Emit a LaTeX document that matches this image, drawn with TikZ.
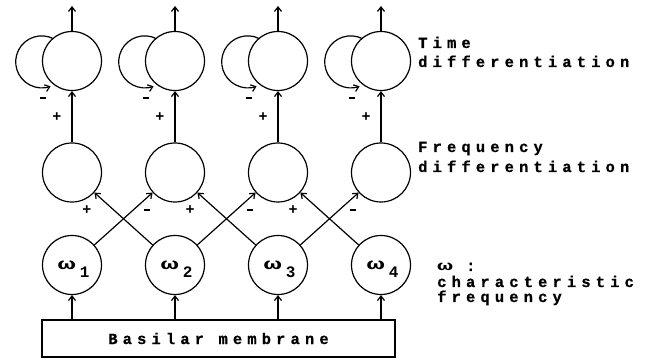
\documentclass[tikz,border=0pt]{standalone}
\usepackage{fontspec}
\usepackage{graphicx}
\newfontfamily\dotfont{Liberation Mono}[LetterSpace=33, BoldFont={Liberation Mono Bold}, BoldFeatures={FakeBold=0.6}]
\newfontfamily\digitfont{Liberation Mono}[BoldFont={Liberation Mono Bold}]
\usetikzlibrary{arrows.meta,calc}

% wide, heavy omega used for the characteristic frequencies
\newcommand{\wideomega}[1]{\scalebox{1.9}[1]{\digitfont\bfseries\fontsize{#1}{#1}\selectfont ω}}

\tikzset{
  neuron/.style={circle, draw, line width=1.2pt, minimum size=59pt, inner sep=0pt},
  link/.style={line width=1.2pt, -{Straight Barb[length=4.5pt,width=7pt,line width=1.2pt]}},
  lbl/.style={font=\dotfont\bfseries\fontsize{15.5}{17}\selectfont, anchor=base west, inner sep=0pt},
  sign/.style={font=\digitfont\bfseries\fontsize{15}{15}\selectfont, inner sep=0pt},
}
\newcommand{\minussign}{\rule{6.5pt}{1.6pt}}

\begin{document}
\begin{tikzpicture}[x=1pt, y=1pt]
  \useasboundingbox (0,0) rectangle (649,359);

  % basilar membrane
  \node[draw, line width=1.2pt, minimum width=353pt, minimum height=37pt, inner sep=0pt,
        font=\dotfont\bfseries\fontsize{15.5}{17}\selectfont] (bm) at (218.5,20.5) {Basilar membrane\hspace{6pt}};

  \foreach \i/\x in {1/72, 2/175, 3/278, 4/381} {
    % characteristic-frequency units
    \node[neuron] (b\i) at (\x,94) {};
    \node[anchor=base, inner sep=0pt] (w\i) at (\x+1.5,89)
      {\wideomega{16}\hspace{4pt}\raisebox{-8pt}{\digitfont\bfseries\fontsize{16}{16}\selectfont\i}};
    % frequency-differentiation units
    \node[neuron] (m\i) at (\x,186.5) {};
    % time-differentiation units
    \node[neuron] (t\i) at (\x,298) {};
    \coordinate (o\i) at (\x,353);

    \draw[link] (bm.north -| b\i) -- (b\i);
    \draw[link] (m\i) -- (t\i);
    \draw[link] (t\i) -- (o\i);

    % self-inhibition loop
    \draw[link] ($(t\i.center)+(-18.5,22.3)$) arc[start angle=63, end angle=290, radius=26];
    \node[sign] (n\i) at (\x-29,261) {\minussign};
    \node[sign] (p\i) at (\x-15,242) {+};
  }

  % lateral connections
  \draw[link] (b2) -- (m1);
  \draw[link] (b1) -- (m2);
  \draw[link] (b3) -- (m2);
  \draw[link] (b2) -- (m3);
  \draw[link] (b4) -- (m3);
  \draw[link] (b3) -- (m4);

  \node[sign] (s1p) at (87,149) {+};
  \node[sign] (s2m) at (147,149) {\minussign};
  \node[sign] (s2p) at (190,149) {+};
  \node[sign] (s3m) at (250,149) {\minussign};
  \node[sign] (s3p) at (293,149) {+};
  \node[sign] (s4m) at (353,149) {\minussign};

  % side labels
  \node[lbl] (l1) at (418,311) {Time};
  \node[lbl] (l2) at (418,292) {differentiation};
  \node[lbl] (l3) at (418,207) {Frequency};
  \node[lbl] (l4) at (418,187) {differentiation};
  \node[lbl] (l5) at (437,88) {\makebox[29pt][l]{\wideomega{14}}:};
  \node[lbl] (l6) at (437,72) {characteristic};
  \node[lbl] (l7) at (437,57) {frequency};
\end{tikzpicture}
\end{document}
